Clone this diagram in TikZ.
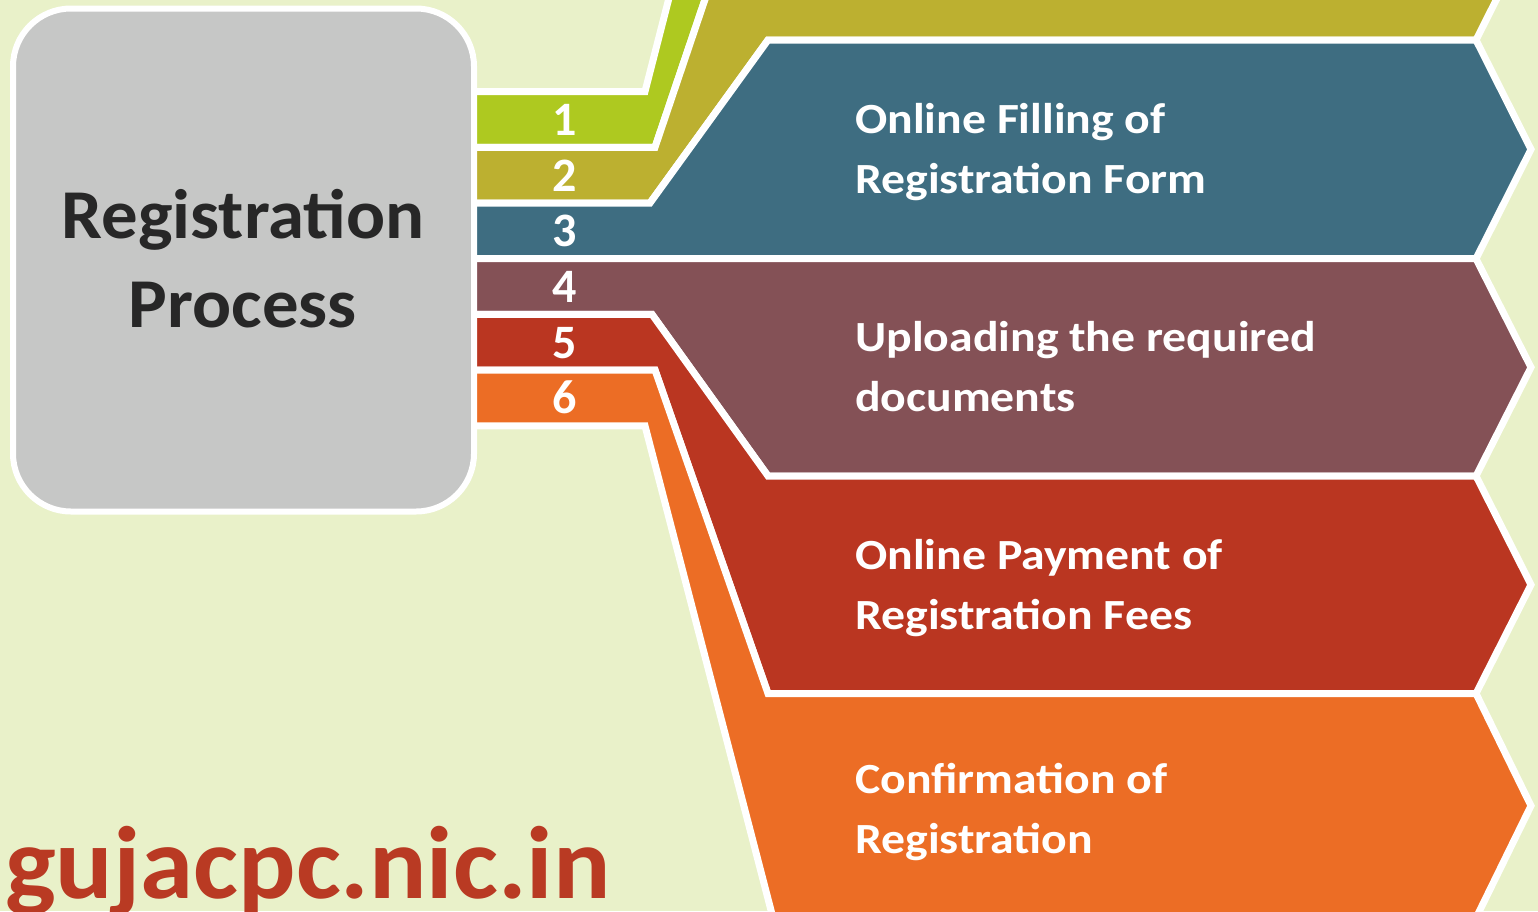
\documentclass[tikz,border=0pt]{standalone}
\usepackage{fontspec}
\usepackage{graphicx}
\setmainfont{Carlito}
\definecolor{bgc}{HTML}{E9F1C9}
\definecolor{greyc}{HTML}{C6C7C6}
\definecolor{greenc}{HTML}{AEC920}
\definecolor{olivec}{HTML}{BCB030}
\definecolor{bluec}{HTML}{3E6D81}
\definecolor{maroonc}{HTML}{845156}
\definecolor{redc}{HTML}{BA3621}
\definecolor{orangec}{HTML}{EC6D25}
\definecolor{darkc}{HTML}{272727}
\definecolor{urlc}{HTML}{B93A23}
\newcommand{\stepstretch}[1]{\scalebox{1.11}[1]{#1}}
\newcommand{\titlestretch}[1]{\scalebox{1.04}[1]{#1}}
\newcommand{\urlstretch}[1]{\scalebox{1.04}[1]{#1}}
\tikzset{
  band/.style={draw=white, line width=7pt, line join=miter},
  numlbl/.style={font=\fontsize{48}{48}\selectfont\bfseries, text=white, anchor=base, inner sep=0pt},
  steplbl/.style={font=\fontsize{43}{60}\selectfont\bfseries, text=white, anchor=base west, inner sep=0pt},
  titlelbl/.style={font=\fontsize{70}{89}\selectfont\bfseries, text=darkc, anchor=base, inner sep=0pt},
}
\begin{document}
\begin{tikzpicture}[x=1pt,y=-1pt]
\useasboundingbox (0,0) rectangle (1538,911);
\fill[bgc] (0,0) rectangle (1538,911);
\begin{scope}
\clip (0,0) rectangle (1538,911);
% 1 green
\path[band, fill=greenc] (470,91.5) -- (645,91.5) -- (770,-396) -- (1476,-396) -- (1531,-287) -- (1476,-178) -- (765,-178) -- (655,147.3) -- (470,147.3) -- cycle;
% 2 olive
\path[band, fill=olivec] (470,147.3) -- (655,147.3) -- (765,-178) -- (1476,-178) -- (1531,-69) -- (1476,40) -- (768,40) -- (650,203) -- (470,203) -- cycle;
% 3 blue
\path[band, fill=bluec] (470,203) -- (650,203) -- (768,40) -- (1476,40) -- (1531,149.35) -- (1476,258.7) -- (470,258.7) -- cycle;
% 4 maroon
\path[band, fill=maroonc] (470,258.7) -- (1476,258.7) -- (1531,367.35) -- (1476,476) -- (768,476) -- (652,314.4) -- (470,314.4) -- cycle;
% 5 red
\path[band, fill=redc] (470,314.4) -- (652,314.4) -- (768,476) -- (1476,476) -- (1531,584.75) -- (1476,693.5) -- (768,693.5) -- (655,370) -- (470,370) -- cycle;
% 6 orange
\path[band, fill=orangec] (470,370) -- (655,370) -- (768,693.5) -- (1476,693.5) -- (1531,805.75) -- (1476,918) -- (773,918) -- (645,425.8) -- (470,425.8) -- cycle;
\end{scope}
% main box
\node[draw=white, line width=6pt, fill=greyc, rounded corners=58pt, minimum width=461pt, minimum height=503pt, inner sep=0pt] (box) at (243.5,260) {};
\node[titlelbl] (t1) at (243,238) {\titlestretch{Registration}};
\node[titlelbl] (t2) at (243,327) {\titlestretch{Process}};
% numbers
\node[numlbl] (n1) at (565,135.4) {1};
\node[numlbl] (n2) at (565,191.15) {2};
\node[numlbl] (n3) at (565,246.85) {3};
\node[numlbl] (n4) at (565,302.55) {4};
\node[numlbl] (n5) at (565,358.25) {5};
\node[numlbl] (n6) at (565,413.95) {6};
% step texts
\node[steplbl] (s3a) at (855,133) {\stepstretch{Online Filling of}};
\node[steplbl] (s3b) at (855,193) {\stepstretch{Registration Form}};
\node[steplbl] (s4a) at (855,351) {\stepstretch{Uploading the required}};
\node[steplbl] (s4b) at (855,411) {\stepstretch{documents}};
\node[steplbl] (s5a) at (855,569) {\stepstretch{Online Payment of}};
\node[steplbl] (s5b) at (855,629) {\stepstretch{Registration Fees}};
\node[steplbl] (s6a) at (855,793) {\stepstretch{Confirmation of}};
\node[steplbl] (s6b) at (855,853) {\stepstretch{Registration}};
% url
\node[font=\fontsize{103}{103}\selectfont\bfseries, text=urlc, anchor=base west, inner sep=0pt] (url) at (5,898) {\urlstretch{gujacpc.nic.in}};
\end{tikzpicture}
\end{document}
